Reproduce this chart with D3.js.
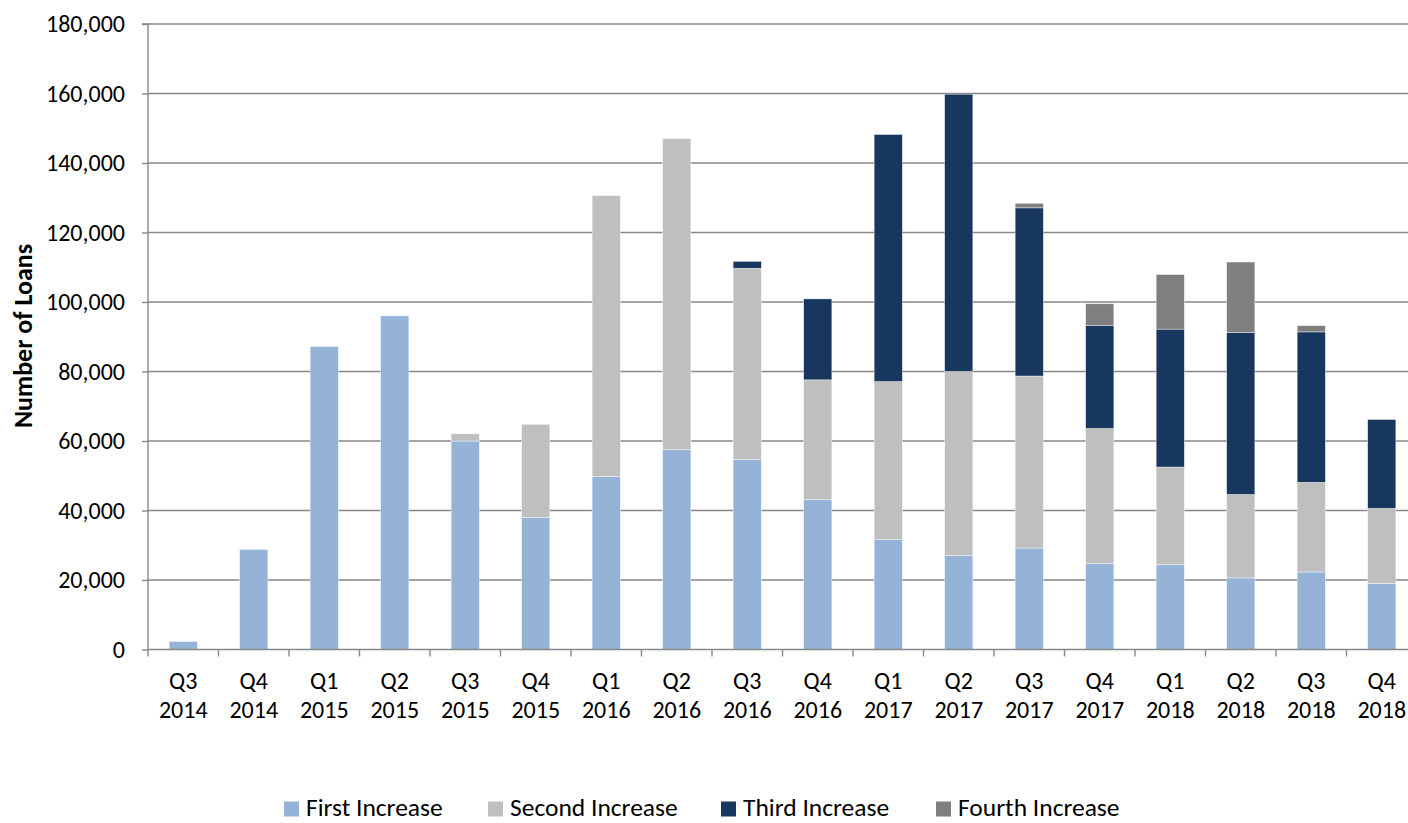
<!DOCTYPE html>
<html>
<head>
<meta charset="utf-8">
<script src="https://cdn.jsdelivr.net/npm/d3@7"></script>
<style>
  html, body { margin: 0; padding: 0; background: #fff; }
  svg { display: block; }
  text { font-family: Carlito, Lato, "Open Sans", sans-serif; fill: #000; }
</style>
</head>
<body>
<svg id="chart" width="1408" height="823"></svg>
<script>
const quarters = ["Q3","Q4","Q1","Q2","Q3","Q4","Q1","Q2","Q3","Q4","Q1","Q2","Q3","Q4","Q1","Q2","Q3","Q4"];
const years    = ["2014","2014","2015","2015","2015","2015","2016","2016","2016","2016","2017","2017","2017","2017","2018","2018","2018","2018"];
const seriesNames = ["First Increase","Second Increase","Third Increase","Fourth Increase"];
const firstIncrease  = [2300, 28800, 87200, 96000, 60000, 38000, 49800, 57500, 54700, 43100, 31700, 27100, 29200, 24700, 24400, 20600, 22300, 19000];
const secondIncrease = [0, 0, 0, 0, 2100, 26800, 80800, 89500, 55000, 34500, 45400, 52900, 49500, 38900, 28100, 24000, 25800, 21600];
const thirdIncrease  = [0, 0, 0, 0, 0, 0, 0, 0, 2000, 23300, 71100, 79800, 48400, 29700, 39700, 46600, 43300, 25600];
const fourthIncrease = [0, 0, 0, 0, 0, 0, 0, 0, 0, 0, 0, 0, 1300, 6200, 15700, 20300, 1800, 0];
const yTicks = [0, 20000, 40000, 60000, 80000, 100000, 120000, 140000, 160000, 180000];
const colors = ["#95B3D7", "#BFBFBF", "#17375E", "#7F7F7F"];

const cats = quarters.map((q, i) => q + " " + years[i]);
const rows = cats.map((c, i) => ({
  cat: c,
  "First Increase": firstIncrease[i],
  "Second Increase": secondIncrease[i],
  "Third Increase": thirdIncrease[i],
  "Fourth Increase": fourthIncrease[i]
}));

const svg = d3.select("#chart");
const mLeft = 148, mTop = 24, mBottom = 649.5, mRight = 1417;

const x = d3.scaleBand().domain(cats).range([mLeft, mRight]).paddingInner(0).paddingOuter(0);
const y = d3.scaleLinear().domain([0, 180000]).range([mBottom, mTop]);
const color = d3.scaleOrdinal().domain(seriesNames).range(colors);
const gridColor = "#878787";
const tickFont = 24;

// gridlines
svg.append("g").selectAll("line").data(yTicks.filter(d => d > 0)).join("line")
  .attr("x1", mLeft).attr("x2", 1408)
  .attr("y1", d => y(d)).attr("y2", d => y(d))
  .attr("stroke", gridColor).attr("stroke-width", 1.4);

// stacked bars
const stack = d3.stack().keys(seriesNames);
const layers = stack(rows);
const barW = x.bandwidth() * 0.4;
svg.append("g").selectAll("g").data(layers).join("g")
  .attr("fill", d => color(d.key))
  .selectAll("rect").data(d => d.filter(s => s[1] - s[0] > 0)).join("rect")
  .attr("x", d => x(d.data.cat) + (x.bandwidth() - barW) / 2)
  .attr("width", barW)
  .attr("y", d => y(d[1]))
  .attr("height", d => y(d[0]) - y(d[1]))
  .attr("stroke", "rgba(255,255,255,0.6)").attr("stroke-width", 0.7);

// y axis
const yAxis = d3.axisLeft(y).tickValues(yTicks).tickSize(6).tickPadding(17)
  .tickFormat(d3.format(","));
const gy = svg.append("g").attr("transform", `translate(${mLeft},0)`).call(yAxis);
gy.select(".domain").attr("stroke", gridColor).attr("stroke-width", 1.4).attr("d", `M-6,${mTop}H0V${mBottom}`);
gy.selectAll(".tick line").attr("stroke", gridColor).attr("stroke-width", 1.4);
gy.selectAll(".tick text").attr("font-size", tickFont).attr("font-family", null).attr("fill", "#000");

// x axis
const xAxis = d3.axisBottom(x).tickSize(0).tickFormat("");
const gx = svg.append("g").attr("transform", `translate(0,${mBottom})`).call(xAxis);
gx.select(".domain").attr("stroke", gridColor).attr("stroke-width", 1.4).attr("d", `M${mLeft},0H1408`);
gx.selectAll(".tick").remove();
// band boundary ticks
svg.append("g").selectAll("line").data(cats).join("line")
  .attr("x1", d => x(d)).attr("x2", d => x(d))
  .attr("y1", mBottom).attr("y2", mBottom + 7)
  .attr("stroke", gridColor).attr("stroke-width", 1.4);
// category labels
const lab = svg.append("g").selectAll("text").data(cats).join("text")
  .attr("x", d => x(d) + x.bandwidth() / 2)
  .attr("text-anchor", "middle")
  .attr("font-size", tickFont);
lab.append("tspan").attr("x", d => x(d) + x.bandwidth() / 2).attr("y", 689).text((d, i) => quarters[i]);
lab.append("tspan").attr("x", d => x(d) + x.bandwidth() / 2).attr("y", 718).text((d, i) => years[i]);

// y title
svg.append("text")
  .attr("transform", `translate(32,336) rotate(-90)`)
  .attr("text-anchor", "middle")
  .attr("font-size", 26)
  .attr("font-weight", "bold")
  .text("Number of Loans");

// legend
const legendTextX = [306, 510, 743, 958];
const lg = svg.append("g").selectAll("g").data(seriesNames).join("g")
  .attr("transform", (d, i) => `translate(${legendTextX[i]},809)`);
lg.append("rect").attr("x", -22).attr("y", -7.5).attr("width", 15).attr("height", 15).attr("fill", d => color(d));
lg.append("text").attr("x", 0).attr("y", 7).attr("font-size", 25.5).text(d => d);
</script>
</body>
</html>
